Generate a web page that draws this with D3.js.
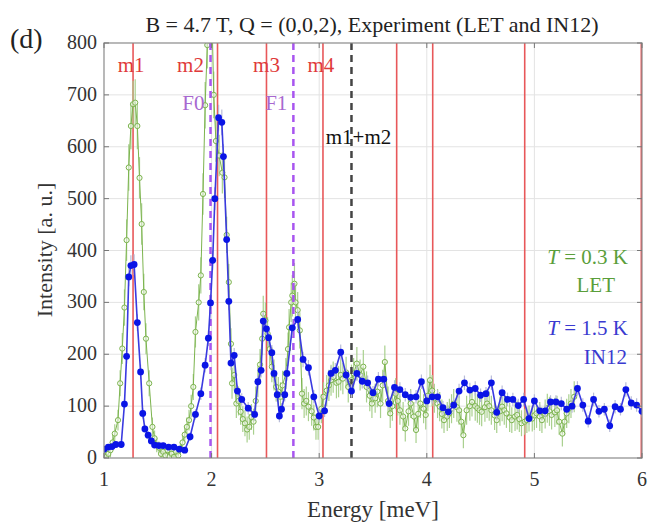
<!DOCTYPE html>
<html>
<head>
<meta charset="utf-8">
<script src="https://cdn.jsdelivr.net/npm/d3@7"></script>
<style>
  body { margin: 0; background: #fff; }
</style>
</head>
<body>
<svg id="chart" width="650" height="526"></svg>
<script>
// LET data (T = 0.3 K): [energy, intensity, error]
var letData = [
  [1.00,5,12],[1.02,2,12],[1.04,8,12],[1.06,15,14],[1.08,30,15],[1.10,47,18],[1.13,73,20],[1.15,144,25],
  [1.17,211,30],[1.19,290,35],[1.21,420,40],[1.23,560,45],[1.25,640,45],[1.27,682,45],[1.29,685,45],
  [1.31,640,45],[1.33,540,40],[1.35,451,40],[1.37,320,35],[1.39,230,30],[1.42,144,25],[1.45,60,18],
  [1.47,38,15],[1.49,25,14],[1.51,20,12],[1.53,8,12],[1.55,12,12],[1.57,5,12],[1.59,15,12],[1.61,3,12],
  [1.63,8,12],[1.65,2,12],[1.67,12,12],[1.69,5,12],[1.71,18,12],[1.73,30,14],[1.75,45,16],[1.77,60,18],
  [1.79,73,20],[1.81,100,22],[1.83,137,25],[1.85,243,30],[1.88,300,35],[1.90,352,35],[1.92,509,40],
  [1.94,680,45],[1.96,796,45],[1.98,900,45],[2.00,880,45],[2.02,700,45],[2.04,611,40],[2.07,583,40],
  [2.10,550,40],[2.12,541,40],[2.14,430,35],[2.16,339,35],[2.18,220,30],[2.19,144,30],[2.21,160,30],
  [2.23,105,28],[2.25,110,28],[2.27,89,25],[2.29,75,25],[2.31,67,25],[2.33,55,25],[2.35,60,25],
  [2.37,79,25],[2.39,70,25],[2.41,110,28],[2.43,147,30],[2.45,180,30],[2.47,230,32],[2.48,278,35],
  [2.50,265,35],[2.52,240,32],[2.54,210,30],[2.56,176,30],[2.58,160,30],[2.60,137,28],[2.62,128,28],
  [2.64,118,28],[2.66,140,28],[2.69,163,30],[2.71,210,32],[2.72,252,35],[2.74,300,38],[2.75,313,40],
  [2.77,336,40],[2.78,300,38],[2.80,285,35],[2.82,246,35],[2.84,124,30],[2.86,105,28],[2.88,110,28],
  [2.90,99,28],[2.93,90,28],[2.95,78,25],[2.97,60,25],[2.99,60,25],[3.02,95,28],[3.04,118,28],
  [3.07,130,30],[3.09,140,30],[3.11,150,30],[3.13,156,30],[3.16,145,30],[3.18,147,30],[3.20,160,30],
  [3.22,153,30],[3.25,165,30],[3.27,137,30],[3.30,150,30],[3.32,163,30],[3.35,182,32],[3.38,160,30],
  [3.41,176,32],[3.44,137,30],[3.47,120,30],[3.49,105,28],[3.52,115,28],[3.54,128,30],[3.57,105,28],
  [3.59,140,30],[3.61,185,32],[3.64,110,28],[3.66,86,28],[3.68,100,28],[3.71,124,30],[3.73,110,28],
  [3.75,92,28],[3.78,80,28],[3.80,57,25],[3.83,90,28],[3.85,105,28],[3.88,80,28],[3.90,54,25],
  [3.92,85,28],[3.94,105,28],[3.97,95,28],[3.99,83,28],[4.01,120,30],[4.03,150,30],[4.05,130,30],
  [4.07,115,28],[4.10,105,28],[4.12,99,28],[4.14,85,28],[4.16,73,25],[4.19,80,28],[4.21,86,28],
  [4.23,95,28],[4.25,105,28],[4.28,98,28],[4.30,92,28],[4.32,70,25],[4.34,44,25],[4.37,92,28],
  [4.40,100,28],[4.42,108,28],[4.45,100,28],[4.47,96,28],[4.49,92,28],[4.51,89,28],[4.54,98,28],
  [4.56,105,28],[4.58,100,28],[4.60,92,28],[4.63,82,28],[4.65,73,25],[4.68,90,28],[4.70,99,28],
  [4.72,92,28],[4.74,86,28],[4.77,78,28],[4.79,73,25],[4.82,80,28],[4.84,83,28],[4.86,75,25],
  [4.88,67,25],[4.91,70,25],[4.93,73,25],[4.95,76,25],[4.98,76,25],[5.00,82,28],[5.02,86,28],
  [5.05,80,28],[5.07,73,25],[5.10,85,28],[5.12,96,28],[5.14,90,28],[5.16,83,28],[5.19,88,28],
  [5.21,92,28],[5.23,70,25],[5.26,47,25],[5.28,70,25],[5.30,86,28],[5.32,95,28],[5.34,105,28],
  [5.37,118,30]
];

// IN12 data (T = 1.5 K): [energy, intensity, error]
var in12Data = [
  [1.00,17,6],[1.04,21,6],[1.075,22,6],[1.11,26,6],[1.16,26,6],[1.19,104,10],[1.21,196,14],[1.23,349,18],
  [1.25,371,20],[1.28,373,20],[1.31,261,16],[1.34,166,14],[1.36,86,10],[1.38,56,8],[1.41,44,8],
  [1.44,33,7],[1.47,25,6],[1.51,24,6],[1.55,24,6],[1.60,21,6],[1.65,21,6],[1.70,17,6],[1.75,15,6],
  [1.80,41,8],[1.85,84,10],[1.90,124,12],[1.94,179,14],[1.97,231,15],[1.99,299,17],[2.01,381,19],
  [2.03,500,22],[2.065,656,25],[2.095,647,25],[2.11,581,24],[2.14,421,20],[2.16,302,17],[2.18,183,14],
  [2.21,198,14],[2.24,129,12],[2.28,113,12],[2.34,96,12],[2.40,84,12],[2.43,147,14],[2.46,169,14],
  [2.48,264,17],[2.51,249,17],[2.53,232,16],[2.56,203,15],[2.58,163,14],[2.61,122,13],[2.63,81,12],
  [2.65,94,12],[2.68,122,13],[2.70,163,14],[2.75,251,17],[2.80,267,17],[2.85,190,15],[2.90,174,15],
  [2.95,118,13],[3.00,81,12],[3.05,91,12],[3.11,163,14],[3.15,169,14],[3.20,204,15],[3.25,160,14],
  [3.30,129,13],[3.35,163,14],[3.40,148,14],[3.45,145,14],[3.50,126,13],[3.55,152,14],[3.60,152,14],
  [3.65,105,13],[3.70,136,14],[3.75,132,14],[3.80,122,13],[3.85,117,13],[3.90,118,13],[3.95,147,14],
  [4.00,110,13],[4.05,118,13],[4.10,118,13],[4.15,97,13],[4.20,89,12],[4.25,102,13],[4.30,129,14],
  [4.35,145,14],[4.40,131,14],[4.45,134,14],[4.50,121,13],[4.55,124,13],[4.60,145,14],[4.65,88,12],
  [4.70,126,14],[4.75,113,13],[4.80,113,13],[4.85,101,13],[4.90,113,13],[4.95,76,12],[5.00,110,13],
  [5.05,91,12],[5.10,91,12],[5.15,108,13],[5.20,108,13],[5.25,105,13],[5.30,94,12],[5.35,100,13],
  [5.40,134,14],[5.45,102,13],[5.50,71,12],[5.55,113,13],[5.60,90,12],[5.65,94,12],[5.70,62,12],
  [5.75,99,13],[5.80,94,12],[5.85,132,14],[5.90,106,13],[5.95,102,13],[6.00,90,12]
];

// reference lines: magnon modes (red), F modes (purple dashed), combination (black dashed)
var magnonE = [1.27, 2.055, 2.51, 3.035, 3.72, 4.055, 4.91, 6.0];
var magnonLabels = ["m1", "m2", "m3", "m4"];
var fModeE = [1.99, 2.76];
var fModeLabels = ["F0", "F1"];
var comboE = [3.30];
var comboLabels = ["m1+m2"];

var xTicks = [1, 2, 3, 4, 5, 6];
var yTicks = [0, 100, 200, 300, 400, 500, 600, 700, 800];

var FONT = "'Liberation Serif'";
var svg = d3.select("#chart");
var L = 104, R = 642, T = 43, B = 458;

var x = d3.scaleLinear().domain([1, 6]).range([L, R]);
var y = d3.scaleLinear().domain([0, 800]).range([B, T]);

svg.append("defs").append("clipPath").attr("id", "plotclip")
  .append("rect").attr("x", L).attr("y", T).attr("width", R - L).attr("height", B - T);

// grid
svg.append("g").selectAll("line").data(yTicks.slice(1, -1)).enter().append("line")
  .attr("x1", L).attr("x2", R).attr("y1", d => y(d)).attr("y2", d => y(d))
  .style("stroke", "#e3e3e3").style("stroke-width", 1);
svg.append("g").selectAll("line").data(xTicks.slice(1, -1)).enter().append("line")
  .attr("y1", T).attr("y2", B).attr("x1", d => x(d)).attr("x2", d => x(d))
  .style("stroke", "#e3e3e3").style("stroke-width", 1);

var plot = svg.append("g").attr("clip-path", "url(#plotclip)");

// red magnon lines
plot.selectAll(".mline").data(magnonE).enter().append("line")
  .attr("class", "mline")
  .attr("x1", d => x(d)).attr("x2", d => x(d)).attr("y1", T).attr("y2", B)
  .style("stroke", "#e8585a").style("stroke-width", d => d >= 6 ? 3 : 1.6);

// LET (green)
var letG = plot.append("g");
letG.selectAll("line").data(letData).enter().append("line")
  .attr("x1", d => x(d[0])).attr("x2", d => x(d[0]))
  .attr("y1", d => y(d[1] - d[2])).attr("y2", d => y(d[1] + d[2]))
  .style("stroke", "#a9d08e").style("stroke-width", 1.2);
letG.append("path").datum(letData)
  .attr("d", d3.line().x(d => x(d[0])).y(d => y(d[1])))
  .style("fill", "none").style("stroke", "#7cb44e").style("stroke-width", 1);
letG.selectAll("circle").data(letData).enter().append("circle")
  .attr("cx", d => x(d[0])).attr("cy", d => y(d[1])).attr("r", 2.6)
  .style("fill", "#f3f9ee").style("fill-opacity", 0.6)
  .style("stroke", "#7cb44e").style("stroke-width", 1);

// purple and black dashed lines
plot.selectAll(".fline").data(fModeE).enter().append("line")
  .attr("x1", d => x(d)).attr("x2", d => x(d)).attr("y1", T).attr("y2", B)
  .style("stroke", "#a855f0").style("stroke-width", 2.5).style("stroke-dasharray", "7,5");
plot.selectAll(".cline").data(comboE).enter().append("line")
  .attr("x1", d => x(d)).attr("x2", d => x(d)).attr("y1", T).attr("y2", B)
  .style("stroke", "#444").style("stroke-width", 2.5).style("stroke-dasharray", "7,5");

// IN12 (blue)
var inG = plot.append("g");
inG.selectAll("line").data(in12Data).enter().append("line")
  .attr("x1", d => x(d[0])).attr("x2", d => x(d[0]))
  .attr("y1", d => y(d[1] - d[2])).attr("y2", d => y(d[1] + d[2]))
  .style("stroke", "#b8bcd8").style("stroke-width", 1.2);
inG.append("path").datum(in12Data)
  .attr("d", d3.line().x(d => x(d[0])).y(d => y(d[1])))
  .style("fill", "none").style("stroke", "#3a3ae0").style("stroke-width", 1.6);
inG.selectAll("circle").data(in12Data).enter().append("circle")
  .attr("cx", d => x(d[0])).attr("cy", d => y(d[1])).attr("r", 3.4)
  .style("fill", "#0a14e6");

// frame and ticks
svg.append("rect").attr("x", L).attr("y", T).attr("width", R - L).attr("height", B - T)
  .style("fill", "none").style("stroke", "#8a8a8a").style("stroke-width", 1.2);
var tk = svg.append("g").style("stroke", "#777").style("stroke-width", 1);
xTicks.forEach(function(t){
  tk.append("line").attr("x1", x(t)).attr("x2", x(t)).attr("y1", B).attr("y2", B - 5);
  tk.append("line").attr("x1", x(t)).attr("x2", x(t)).attr("y1", T).attr("y2", T + 5);
});
yTicks.forEach(function(t){
  tk.append("line").attr("x1", L).attr("x2", L + 5).attr("y1", y(t)).attr("y2", y(t));
  tk.append("line").attr("x1", R).attr("x2", R - 5).attr("y1", y(t)).attr("y2", y(t));
});

function txt(sel){ return sel.style("font-family", FONT); }

// tick labels
txt(svg.append("g").selectAll("text").data(xTicks).enter().append("text"))
  .text(d => d).attr("x", d => x(d)).attr("y", 486)
  .attr("text-anchor", "middle").style("font-size", "20px").style("fill", "#333");
txt(svg.append("g").selectAll("text").data(yTicks).enter().append("text"))
  .text(d => d).attr("x", 97).attr("y", d => y(d) + 6)
  .attr("text-anchor", "end").style("font-size", "20px").style("fill", "#333");

// axis titles
txt(svg.append("text")).text("Energy [meV]").attr("x", 373).attr("y", 517)
  .attr("text-anchor", "middle").style("font-size", "23px").style("fill", "#333");
txt(svg.append("text")).text("Intensity [a. u.]")
  .attr("transform", "translate(52,250) rotate(-90)")
  .attr("text-anchor", "middle").style("font-size", "22px").style("fill", "#333");
txt(svg.append("text")).text("B = 4.7 T, Q = (0,0,2), Experiment (LET and IN12)")
  .attr("x", 372).attr("y", 32).attr("text-anchor", "middle")
  .style("font-size", "22px").style("fill", "#222");
txt(svg.append("text")).text("(d)").attr("x", 10).attr("y", 48)
  .style("font-size", "28px").style("fill", "#222");

// mode labels
var mOffsets = [-2, -27, 0, -2];
txt(svg.append("g").selectAll("text").data(magnonLabels).enter().append("text"))
  .text(d => d).attr("x", (d, i) => x(magnonE[i]) + mOffsets[i]).attr("y", 72)
  .attr("text-anchor", "middle").style("font-size", "21px").style("fill", "#e03a3a");
txt(svg.append("g").selectAll("text").data(fModeLabels).enter().append("text"))
  .text(d => d).attr("x", (d, i) => x(fModeE[i]) - 6).attr("y", 110)
  .attr("text-anchor", "end").style("font-size", "21px").style("fill", "#a868d0");
txt(svg.append("g").selectAll("text").data(comboLabels).enter().append("text"))
  .text(d => d).attr("x", (d, i) => x(comboE[i]) + 7).attr("y", 144)
  .attr("text-anchor", "middle").style("font-size", "21px").style("fill", "#111");

// legend texts
function tLabel(s, xx, yy, col){
  var t = txt(svg.append("text")).attr("x", xx).attr("y", yy).attr("text-anchor", "end")
    .style("font-size", "21px").style("fill", col);
  t.append("tspan").text("T").style("font-style", "italic");
  t.append("tspan").text(s);
}
tLabel(" = 0.3 K", 628, 264, "#5a9e3a");
txt(svg.append("text")).text("LET").attr("x", 615).attr("y", 292).attr("text-anchor", "end")
  .style("font-size", "21px").style("fill", "#5a9e3a");
tLabel(" = 1.5 K", 628, 335, "#3a3ad0");
txt(svg.append("text")).text("IN12").attr("x", 627).attr("y", 364).attr("text-anchor", "end")
  .style("font-size", "21px").style("fill", "#3a3ad0");
</script>
</body>
</html>
